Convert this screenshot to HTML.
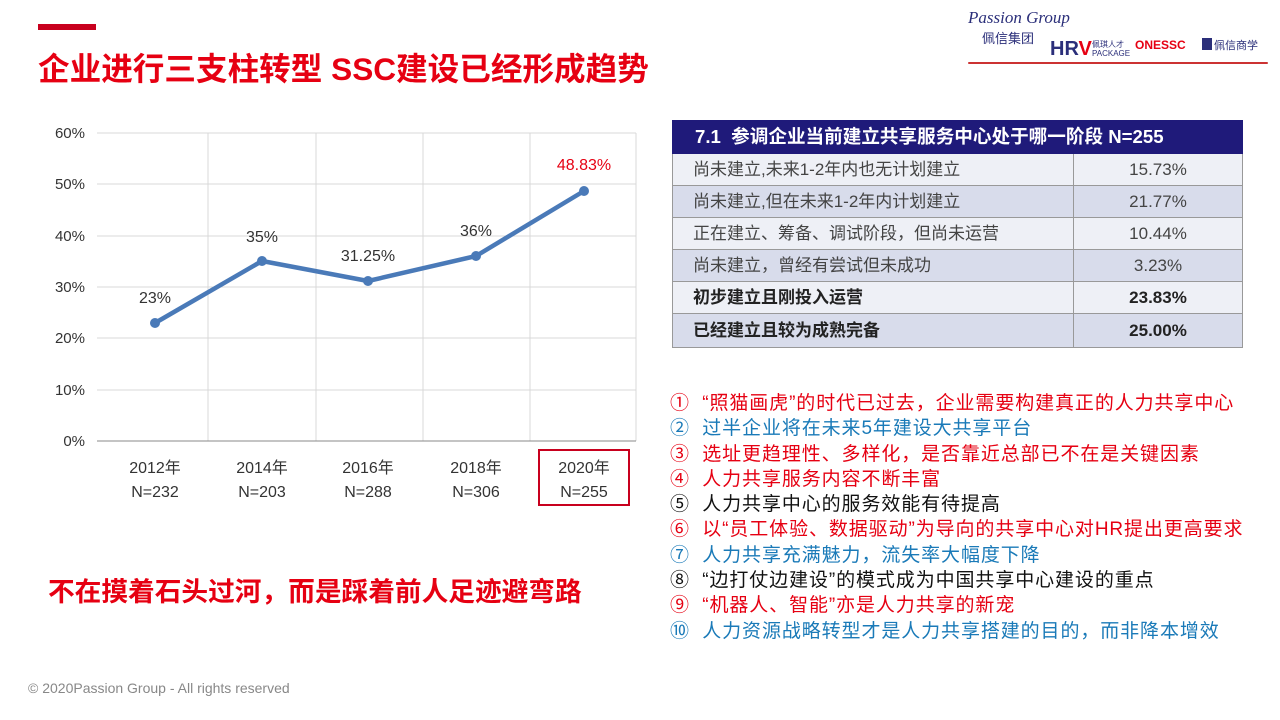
<!DOCTYPE html>
<html><head><meta charset="utf-8"><style>
body{margin:0;width:1280px;height:720px;background:#fff;position:relative;overflow:hidden;font-family:"Liberation Sans","Noto Sans CJK SC",sans-serif}
.a{position:absolute;white-space:nowrap}
table{position:absolute;left:672px;top:120px;width:571px;border-collapse:collapse;font-size:17px;color:#444}
tr{height:32px}
td{border:1.5px solid #999;padding:0 0 0 20px;line-height:20px}
td.v{text-align:center;padding:0;width:168px}
tr.b td{font-weight:bold;color:#222}
.list{position:absolute;left:670px;top:391px;font-size:19px;letter-spacing:0.9px;line-height:25.3px}
.list div{white-space:nowrap}
.r{color:#e60012}.bl{color:#1a7ab8}.k{color:#111}
</style></head><body>
<div class="a" style="left:38px;top:24px;width:58px;height:6px;background:#c8001e"></div>
<div class="a" style="left:38px;top:44px;font-size:31.6px;font-weight:bold;color:#e60012">企业进行三支柱转型 SSC建设已经形成趋势</div>
<div class="a" style="left:968px;top:8px;font-size:17px;font-style:italic;color:#2b2f7a;font-family:'Liberation Serif',serif">Passion Group</div>
<div class="a" style="left:982px;top:28px;font-size:13px;color:#2b2f7a">佩信集团</div>
<div class="a" style="left:1050px;top:38px;font-size:20px;font-weight:bold;color:#2b2f7a">HR<span style="color:#e60012">V</span></div>
<div class="a" style="left:1092px;top:40px;font-size:8px;color:#2b2f7a;line-height:9px">佩琪人才<br>PACKAGE</div>
<div class="a" style="left:1135px;top:38px;font-size:12px;font-weight:bold;color:#e60012">ONESSC</div>
<div class="a" style="left:1202px;top:38px;width:10px;height:12px;background:#2b2f7a"></div>
<div class="a" style="left:1214px;top:37px;font-size:11px;color:#2b2f7a">佩信商学</div>
<div class="a" style="left:968px;top:62px;width:300px;height:2px;background:#c33;border-radius:2px"></div>
<svg class="a" style="left:0;top:0" width="660" height="520">
<g stroke="#d9d9d9" stroke-width="1">
<line x1="97" y1="133" x2="636" y2="133"/><line x1="97" y1="184" x2="636" y2="184"/><line x1="97" y1="236" x2="636" y2="236"/><line x1="97" y1="287" x2="636" y2="287"/><line x1="97" y1="338" x2="636" y2="338"/><line x1="97" y1="390" x2="636" y2="390"/>
<line x1="208" y1="133" x2="208" y2="441"/><line x1="316" y1="133" x2="316" y2="441"/><line x1="423" y1="133" x2="423" y2="441"/><line x1="530" y1="133" x2="530" y2="441"/><line x1="636" y1="133" x2="636" y2="441"/>
</g>
<line x1="97" y1="441" x2="636" y2="441" stroke="#888"/>
<g font-size="15" fill="#333" text-anchor="end"><text x="85" y="138">60%</text><text x="85" y="189">50%</text><text x="85" y="241">40%</text><text x="85" y="292">30%</text><text x="85" y="343">20%</text><text x="85" y="395">10%</text><text x="85" y="446">0%</text></g>
<polyline points="155,323 262,261 368,281 476,256 584,191" fill="none" stroke="#4a7ab8" stroke-width="4.5" stroke-linejoin="round"/>
<g fill="#4a7ab8"><circle cx="155" cy="323" r="5"/><circle cx="262" cy="261" r="5"/><circle cx="368" cy="281" r="5"/><circle cx="476" cy="256" r="5"/><circle cx="584" cy="191" r="5"/></g>
<g font-size="16" fill="#333" text-anchor="middle"><text x="155" y="303">23%</text><text x="262" y="242">35%</text><text x="368" y="261">31.25%</text><text x="476" y="236">36%</text><text x="584" y="170" fill="#e60012" font-size="16">48.83%</text></g>
<g font-size="16" fill="#333" text-anchor="middle">
<text x="155" y="473">2012年</text><text x="155" y="497">N=232</text>
<text x="262" y="473">2014年</text><text x="262" y="497">N=203</text>
<text x="368" y="473">2016年</text><text x="368" y="497">N=288</text>
<text x="476" y="473">2018年</text><text x="476" y="497">N=306</text>
<text x="584" y="473">2020年</text><text x="584" y="497">N=255</text></g>
<rect x="539" y="450" width="90" height="55" fill="none" stroke="#c8001e" stroke-width="2"/>
</svg>
<div class="a" style="left:48px;top:570px;font-size:26.7px;font-weight:bold;color:#e60012">不在摸着石头过河，而是踩着前人足迹避弯路</div>
<table>
<tr style="height:33px"><td colspan="2" style="background:#1f1a7a;color:#fff;font-weight:bold;padding-left:22px;border-color:#1f1a7a;font-size:18.6px">7.1 &nbsp;参调企业当前建立共享服务中心处于哪一阶段 N=255</td></tr>
<tr><td style="background:#eef0f6">尚未建立,未来1-2年内也无计划建立</td><td class="v" style="background:#eef0f6">15.73%</td></tr>
<tr><td style="background:#d8dceb">尚未建立,但在未来1-2年内计划建立</td><td class="v" style="background:#d8dceb">21.77%</td></tr>
<tr><td style="background:#eef0f6">正在建立、筹备、调试阶段，但尚未运营</td><td class="v" style="background:#eef0f6">10.44%</td></tr>
<tr><td style="background:#d8dceb">尚未建立，曾经有尝试但未成功</td><td class="v" style="background:#d8dceb">3.23%</td></tr>
<tr class="b"><td style="background:#eef0f6">初步建立且刚投入运营</td><td class="v" style="background:#eef0f6">23.83%</td></tr>
<tr class="b" style="height:34px"><td style="background:#d8dceb">已经建立且较为成熟完备</td><td class="v" style="background:#d8dceb">25.00%</td></tr>
</table>
<div class="list">
<div class="r">①&nbsp;&nbsp;“照猫画虎”的时代已过去，企业需要构建真正的人力共享中心</div>
<div class="bl">②&nbsp;&nbsp;过半企业将在未来5年建设大共享平台</div>
<div class="r">③&nbsp;&nbsp;选址更趋理性、多样化，是否靠近总部已不在是关键因素</div>
<div class="r">④&nbsp;&nbsp;人力共享服务内容不断丰富</div>
<div class="k">⑤&nbsp;&nbsp;人力共享中心的服务效能有待提高</div>
<div class="r">⑥&nbsp;&nbsp;以“员工体验、数据驱动”为导向的共享中心对HR提出更高要求</div>
<div class="bl">⑦&nbsp;&nbsp;人力共享充满魅力，流失率大幅度下降</div>
<div class="k">⑧&nbsp;&nbsp;“边打仗边建设”的模式成为中国共享中心建设的重点</div>
<div class="r">⑨&nbsp;&nbsp;“机器人、智能”亦是人力共享的新宠</div>
<div class="bl">⑩&nbsp;&nbsp;人力资源战略转型才是人力共享搭建的目的，而非降本增效</div>
</div>
<div class="a" style="left:28px;top:680px;font-size:14px;color:#888">© 2020Passion Group - All rights reserved</div>
</body></html>
